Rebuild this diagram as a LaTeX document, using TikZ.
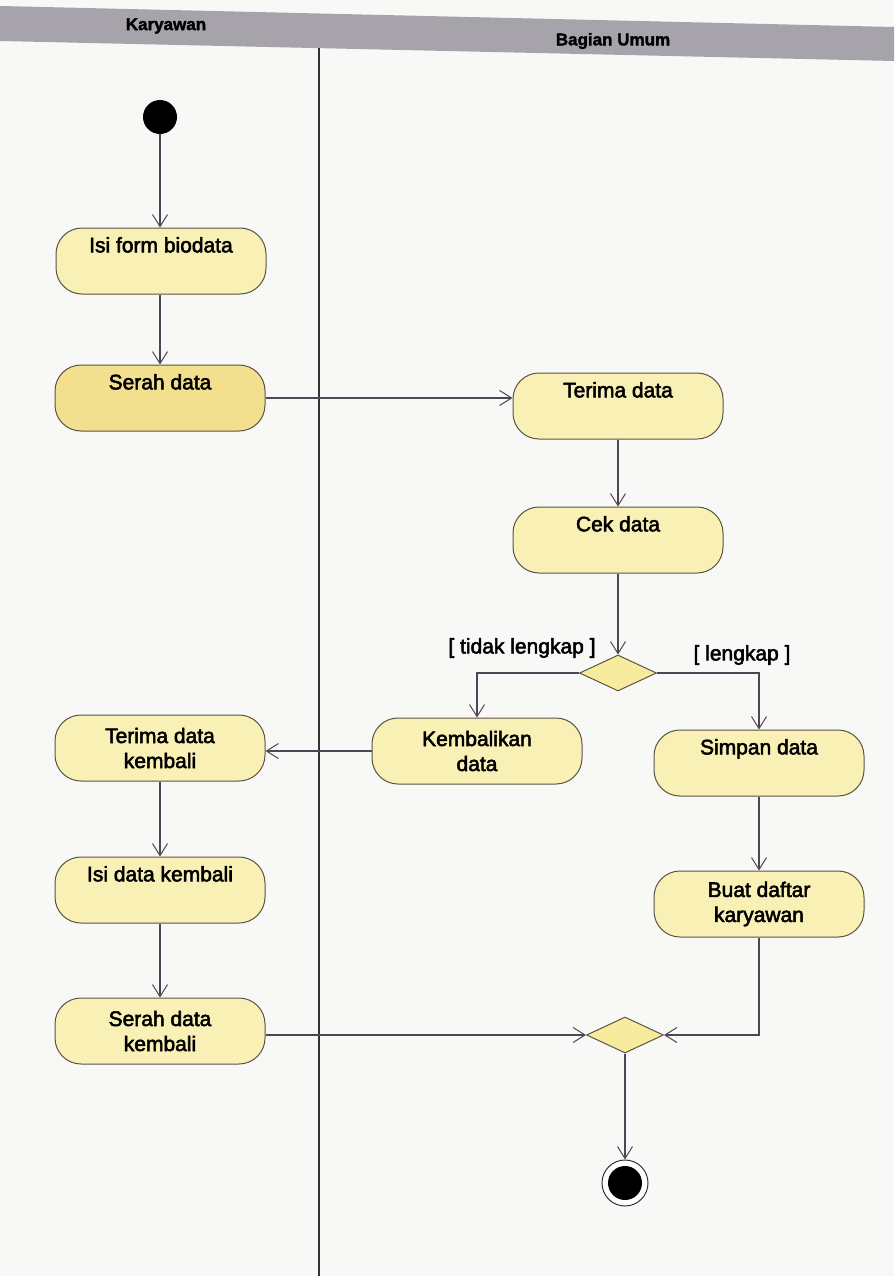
\documentclass[tikz,border=0pt]{standalone}
\usepackage{fontspec}
\setmainfont{Liberation Sans}
\newfontfamily\heavy{Liberation Sans}[FakeBold=2.5]
\newfontfamily\heavybold{Liberation Sans Bold}[FakeBold=2]
\usetikzlibrary{arrows.meta,shapes.geometric}

\definecolor{paper}{HTML}{F8F8F6}
\definecolor{band}{HTML}{A7A3AB}
\definecolor{wire}{HTML}{4E4656}
\definecolor{edge}{HTML}{5C5444}
\definecolor{actfill}{HTML}{F8F0B4}
\definecolor{actwarm}{HTML}{F3E08E}
\definecolor{decfill}{HTML}{F7EC9E}

\tikzset{
  action/.style={draw=edge, line width=1pt, fill=actfill, rectangle,
    rounded corners=26pt, minimum width=210pt, minimum height=66pt,
    inner sep=2pt, align=center, font=\heavy\fontsize{21}{25}\selectfont},
  decision/.style={draw=edge, line width=1pt, fill=decfill, diamond,
    minimum width=77pt, minimum height=36pt, inner sep=0pt, aspect=2.1},
  flow/.style={draw=wire, line width=1.1pt,
    -{Straight Barb[length=12pt,width=15pt,line width=1pt]}},
  guard/.style={font=\heavy\fontsize{21}{25}\selectfont},
  lanehead/.style={font=\heavybold\fontsize{17}{19}\selectfont}
}

\begin{document}
\begin{tikzpicture}[x=1pt,y=-1pt]
  % page and swimlane header
  \fill[paper] (0,0) rectangle (894,1276);
  \useasboundingbox (0,0) rectangle (894,1276);
  \fill[band] (0,6) -- (894,27) -- (894,61) -- (0,41) -- cycle;
  \node[lanehead] (laneA) at (166,26) {Karyawan};
  \node[lanehead] (laneB) at (613,41) {Bagian Umum};
  \draw[black!80, line width=1.1pt] (319,48) -- (319,1276);

  % start and end
  \node[circle, fill=black, minimum size=34pt, inner sep=0pt] (start) at (160,117) {};
  \node[circle, draw=black!80, line width=1pt, fill=white, minimum size=46pt, inner sep=0pt] (end) at (625,1183) {};
  \fill[black] (end.center) circle (17pt);

  % activities
  \node[action] (isi) at (161,261) {Isi form biodata\\\strut};
  \node[action, fill=actwarm] (serah) at (160,398) {Serah data\\\strut};
  \node[action] (terima) at (618,406) {Terima data\\\strut};
  \node[action] (cek) at (618,540) {Cek data\\\strut};
  \node[decision] (d1) at (618,673) {};
  \node[action] (kemb) at (477,751) {Kembalikan\\data};
  \node[action] (simpan) at (759,763) {Simpan data\\\strut};
  \node[action] (terimak) at (160,748) {Terima data\\kembali};
  \node[action] (isik) at (160,890) {Isi data kembali\\\strut};
  \node[action] (buat) at (759,904) {Buat daftar\\karyawan};
  \node[action] (serahk) at (160,1031) {Serah data\\kembali};
  \node[decision] (d2) at (625,1035) {};

  % guards
  \node[guard] (gno) at (522,648) {[ tidak lengkap ]};
  \node[guard] (gyes) at (742,655) {[ lengkap ]};

  % control flow
  \draw[flow] (start.south) -- (start.south |- isi.north);
  \draw[flow] (isi.south -| serah.north) -- (serah.north);
  \draw[flow] (serah.east) -- (serah.east -| terima.west);
  \draw[flow] (terima.south) -- (cek.north);
  \draw[flow] (cek.south) -- (d1.north);
  \draw[flow] (d1.west) -| (kemb.north);
  \draw[flow] (d1.east) -| (simpan.north);
  \draw[flow] (kemb.west) -- (kemb.west -| terimak.east);
  \draw[flow] (terimak.south) -- (isik.north);
  \draw[flow] (isik.south) -- (serahk.north);
  \draw[flow] (simpan.south) -- (buat.north);
  \draw[flow] (buat.south) |- (d2.east);
  \draw[flow] (serahk.east |- d2.west) -- (d2.west);
  \draw[flow] (d2.south) -- (end.north);
\end{tikzpicture}
\end{document}
